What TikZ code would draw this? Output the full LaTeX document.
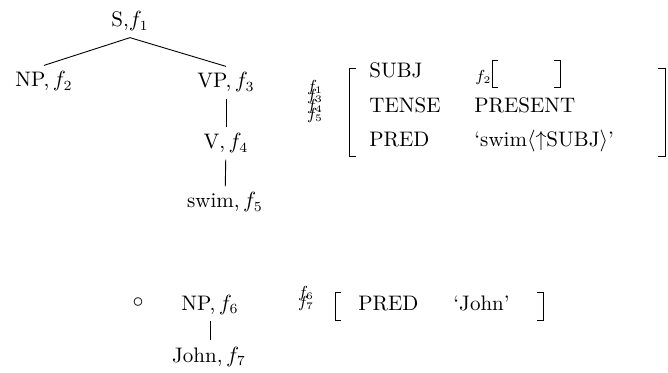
\documentclass[tikz,border=0pt]{standalone}
\begin{document}
\begin{tikzpicture}[x=0.5pt,y=-0.5pt,
  every node/.style={font=\fontsize{10.5}{12.6}\selectfont},
  tnode/.style={inner sep=3pt, anchor=base},
  txt/.style={inner sep=0pt, anchor=base west},
  lbl/.style={inner sep=0pt, anchor=base, font=\fontsize{7.8}{8}\selectfont},
  edge/.style={line width=0.45pt},
  brk/.style={line width=0.5pt}]
\useasboundingbox (0,0) rectangle (668,373);

% c-structure of "John swims"
\node[tnode] (s)    at (130,27)  {S,$f_1$};
\node[tnode] (np)   at (44,87)   {NP,\,$f_2$};
\node[tnode] (vp)   at (226,88)  {VP,\,$f_3$};
\node[tnode] (v)    at (226,149) {V,\,$f_4$};
\node[tnode] (swim) at (225,208) {swim,\,$f_5$};
\draw[edge] (s.south) -- (np.north);
\draw[edge] (s.south) -- (vp.north);
\draw[edge] (vp) -- (v);
\draw[edge] (v) -- (swim);

% f-structure labels
\node[lbl] (l1) at (315,91.5)  {$f_1$};
\node[lbl] (l3) at (315,101) {$f_3$};
\node[lbl] (l4) at (315,110.5) {$f_4$};
\node[lbl] (l5) at (315,120) {$f_5$};

% outer f-structure
\draw[brk] (356,69) -- (349,69) -- (349,157) -- (356,157);
\draw[brk] (658,69) -- (665,69) -- (665,157) -- (658,157);
\node[txt] (a1) at (369,78)  {SUBJ};
\node[txt] (a2) at (369,113) {TENSE};
\node[txt] (a3) at (369,147) {PRED};
\node[lbl, anchor=base west] (l2) at (475,82) {$f_2$};
\draw[brk] (498,61) -- (492,61) -- (492,88) -- (498,88);
\draw[brk] (554,61) -- (560,61) -- (560,88) -- (554,88);
\node[txt] (v2) at (474,113) {PRESENT};
\node[txt] (v3) at (474,147) {`swim$\langle\uparrow$SUBJ$\rangle$'};

% second structure
\node[inner sep=0pt] (dot) at (138,303) {$\circ$};
\node[tnode] (np6)  at (210,310) {NP,\,$f_6$};
\node[tnode] (john) at (209,362) {John,\,$f_7$};
\draw[edge] (np6.south) -- (np6.south |- john.north);
\node[lbl] (l6) at (306,297.5) {$f_6$};
\node[lbl] (l7) at (306,307) {$f_7$};
\draw[brk] (341,293) -- (335,293) -- (335,320) -- (341,320);
\draw[brk] (537,293) -- (543,293) -- (543,320) -- (537,320);
\node[txt] (b1) at (358,310) {PRED};
\node[txt] (b2) at (453,310) {`John'};
\end{tikzpicture}
\end{document}
